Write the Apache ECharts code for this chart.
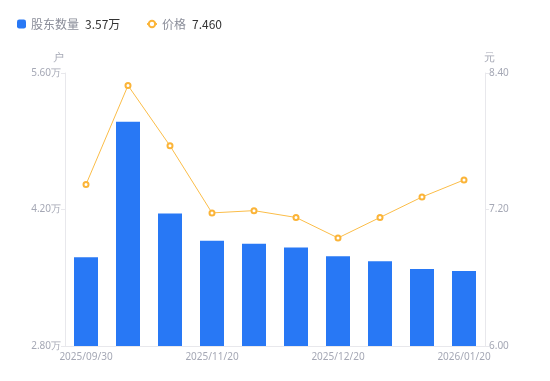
<!DOCTYPE html>
<html><head><meta charset="utf-8">
<script src="https://cdn.jsdelivr.net/npm/echarts@6/dist/echarts.min.js"></script>
<style>html,body{margin:0;padding:0;background:#fff}#c{width:550px;height:381px}</style>
</head><body><div id="c"></div>
<script>
const categories = ['2025/09/30','2025/10/20','2025/10/31','2025/11/20','2025/11/30','2025/12/10','2025/12/20','2025/12/31','2026/01/10','2026/01/20'];
const holders = [3.71, 5.10, 4.16, 3.88, 3.85, 3.81, 3.72, 3.67, 3.59, 3.57];
const prices = [7.42, 8.29, 7.76, 7.17, 7.19, 7.13, 6.95, 7.13, 7.31, 7.46];
const leftTicks = {min: 2.8, max: 5.6, interval: 1.4};
const rightTicks = {min: 6.0, max: 8.4, interval: 1.2};

const chart = echarts.init(document.getElementById('c'), null, {renderer: 'canvas'});
const labelColor = '#a5a8b5';
const lineColor = '#e8e8ec';
const rich = {
  n: {color: '#8a8d99', fontSize: 12, fontFamily: 'Noto Sans CJK SC'},
  v: {color: '#333', fontSize: 12, fontFamily: 'Noto Sans CJK SC', padding: [0,0,0,6]}
};
chart.setOption({
  animation: false,
  legend: [{
    data: ['股东数量'], left: 12, top: 13, icon: 'roundRect', itemWidth: 9, itemHeight: 9, itemGap: 20,
    formatter: n => '{n|' + n + '}{v|' + holders[holders.length-1].toFixed(2) + '万}',
    textStyle: {rich}
  }, {
    data: ['价格'], left: 141, top: 13, itemWidth: 10, itemHeight: 8,
    formatter: n => '{n|' + n + '}{v|' + prices[prices.length-1].toFixed(3) + '}',
    textStyle: {rich}
  }],
  grid: {left: 65, right: 65, top: 73, bottom: 35, containLabel: false},
  xAxis: {
    type: 'category', data: categories,
    axisLine: {lineStyle: {color: lineColor}},
    axisTick: {show: false},
    axisLabel: {color: labelColor, fontSize: 10, interval: 2, margin: 6, fontFamily: 'Noto Sans'}
  },
  yAxis: [{
    type: 'value', name: '户', min: leftTicks.min, max: leftTicks.max, interval: leftTicks.interval,
    nameTextStyle: {color: labelColor, fontSize: 11, padding: [0, 0, 0, -14]}, nameGap: 10,
    axisLine: {show: true, lineStyle: {color: lineColor}},
    axisTick: {show: true, length: 4, lineStyle: {color: lineColor}},
    splitLine: {show: false},
    axisLabel: {color: labelColor, fontSize: 10, margin: 4, formatter: v => v.toFixed(2) + '万', fontFamily: 'Noto Sans'}
  }, {
    type: 'value', name: '元', min: rightTicks.min, max: rightTicks.max, interval: rightTicks.interval,
    nameTextStyle: {color: labelColor, fontSize: 11, padding: [0, -8, 0, 0]}, nameGap: 10,
    axisLine: {show: true, lineStyle: {color: lineColor}},
    axisTick: {show: true, length: 4, lineStyle: {color: lineColor}},
    splitLine: {show: false},
    axisLabel: {color: labelColor, fontSize: 10, margin: 4, formatter: v => v.toFixed(2), fontFamily: 'Noto Sans'}
  }],
  series: [{
    name: '股东数量', type: 'bar', data: holders, yAxisIndex: 0, barWidth: 24,
    itemStyle: {color: '#2878f5'}
  }, {
    name: '价格', type: 'line', data: prices, yAxisIndex: 1,
    symbol: 'emptyCircle', symbolSize: 5,
    lineStyle: {color: '#fbbd48', width: 1},
    itemStyle: {color: '#fbb438', borderWidth: 1.5}
  }]
});
</script></body></html>
